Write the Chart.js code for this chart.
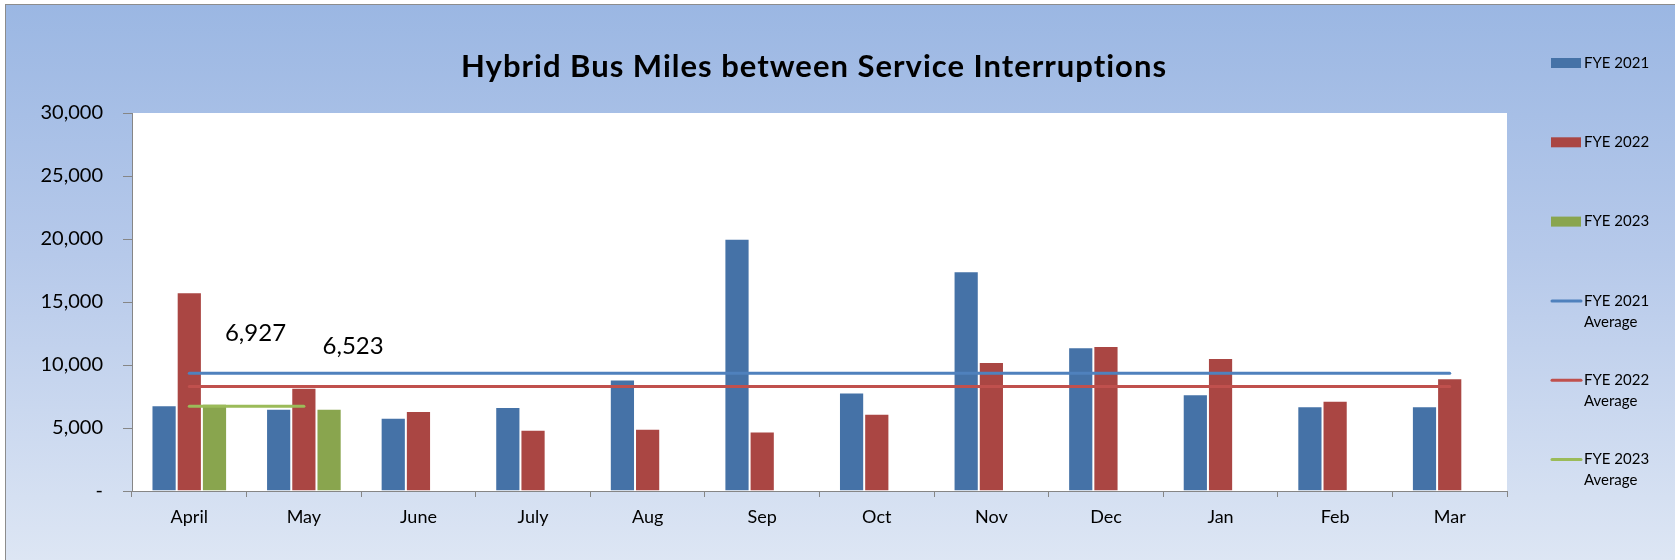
<!DOCTYPE html>
<html lang="en">
<head>
    <meta charset="UTF-8">
    <title>Hybrid Bus Miles between Service Interruptions</title>
    <style>
        body {
            margin: 0;
            padding: 0;
            background-color: #ffffff;
            overflow: hidden;
            font-family: Lato, sans-serif;
        }

        .frame {
            position: absolute;
            left: 5px;
            top: 4px;
            width: 1669px;
            height: 555px;
            border-left: 1px solid #8c8c8c;
            border-top: 1px solid #8c8c8c;
            background: linear-gradient(to bottom, #9bb7e3 0%, #b6c9ea 45%, #dde6f4 100%);
        }

        .chart-container {
            position: relative;
            width: 1669px;
            height: 555px;
        }
    </style>
</head>
<body>
    <div class="frame">
        <div class="chart-container">
            <canvas id="busChart"></canvas>
        </div>
    </div>

    <script src="https://cdn.jsdelivr.net/npm/chart.js"></script>
    <script>
        // Datos
        const months = ['April', 'May', 'June', 'July', 'Aug', 'Sep', 'Oct', 'Nov', 'Dec', 'Jan', 'Feb', 'Mar'];
        const fye2021 = [6810, 6520, 5820, 6660, 8840, 20020, 7810, 17450, 11410, 7670, 6720, 6720];
        const fye2022 = [15770, 8190, 6340, 4870, 4950, 4730, 6140, 10240, 11510, 10560, 7170, 8940];
        const fye2023 = [6927, 6523, null, null, null, null, null, null, null, null, null, null];
        const fye2021Avg = [9350, 9350, 9350, 9350, 9350, 9350, 9350, 9350, 9350, 9350, 9350, 9350];
        const fye2022Avg = [8290, 8290, 8290, 8290, 8290, 8290, 8290, 8290, 8290, 8290, 8290, 8290];
        const fye2023Avg = [6725, 6725, null, null, null, null, null, null, null, null, null, null];
        const yTicks = [0, 5000, 10000, 15000, 20000, 25000, 30000];

        const chartTitle = 'Hybrid Bus Miles between Service Interruptions';

        // fondo blanco del área de trazado
        const plotBackground = {
            id: 'plotBackground',
            beforeDraw(chart) {
                const { ctx, chartArea } = chart;
                ctx.save();
                ctx.fillStyle = '#ffffff';
                ctx.fillRect(chartArea.left, chartArea.top, chartArea.right - chartArea.left, chartArea.bottom - chartArea.top);
                ctx.restore();
            }
        };

        // título dibujado a mano (no centrado sobre el lienzo)
        const titlePlugin = {
            id: 'titlePlugin',
            afterDraw(chart) {
                const ctx = chart.ctx;
                ctx.save();
                ctx.font = 'bold 31px Lato';
                ctx.letterSpacing = '1px';
                ctx.fillStyle = '#000000';
                ctx.textAlign = 'center';
                ctx.textBaseline = 'alphabetic';
                ctx.fillText(chartTitle, 808, 72);
                ctx.restore();
            }
        };

        // etiquetas de datos de FYE 2023
        const labelOffsets = [{ dx: 41, dy: -70 }, { dx: 24, dy: -63 }];
        const dataLabels = {
            id: 'dataLabels',
            afterDatasetsDraw(chart) {
                const ctx = chart.ctx;
                const meta = chart.getDatasetMeta(2);
                ctx.save();
                ctx.font = '24px Lato';
                ctx.fillStyle = '#000000';
                ctx.textAlign = 'center';
                ctx.textBaseline = 'middle';
                fye2023.forEach((val, i) => {
                    if (val === null || !labelOffsets[i]) return;
                    const el = meta.data[i];
                    ctx.fillText(val.toLocaleString('en-US'), el.x + labelOffsets[i].dx, el.y + labelOffsets[i].dy);
                });
                ctx.restore();
            }
        };

        // leyenda a la derecha, con texto partido en dos líneas
        const sideLegend = {
            id: 'sideLegend',
            afterDraw(chart) {
                const ctx = chart.ctx;
                const x = 1545;
                const top = 58;
                const step = 79.3;
                ctx.save();
                ctx.font = '15px Lato';
                ctx.textBaseline = 'middle';
                ctx.textAlign = 'left';
                chart.data.datasets.forEach((ds, i) => {
                    const y = top + i * step;
                    if (ds.type === 'line') {
                        ctx.strokeStyle = ds.borderColor;
                        ctx.lineWidth = 3;
                        ctx.lineCap = 'round';
                        ctx.beginPath();
                        ctx.moveTo(x + 1, y);
                        ctx.lineTo(x + 30, y);
                        ctx.stroke();
                    } else {
                        ctx.fillStyle = ds.backgroundColor;
                        ctx.fillRect(x, y - 5, 30, 10);
                    }
                    // ajuste de línea simple
                    const words = ds.label.split(' ');
                    const lines = [];
                    let line = '';
                    words.forEach(w => {
                        const test = line ? line + ' ' + w : w;
                        if (ctx.measureText(test).width > 75 && line) {
                            lines.push(line);
                            line = w;
                        } else {
                            line = test;
                        }
                    });
                    lines.push(line);
                    ctx.fillStyle = '#000000';
                    lines.forEach((l, j) => ctx.fillText(l, x + 33, y + j * 21));
                });
                ctx.restore();
            }
        };

        const ctx = document.getElementById('busChart').getContext('2d');
        const busChart = new Chart(ctx, {
            type: 'bar',
            data: {
                labels: months,
                datasets: [
                    {
                        label: 'FYE 2021',
                        data: fye2021,
                        backgroundColor: '#4572a7',
                        borderColor: 'rgba(255, 255, 255, 0.3)',
                        borderWidth: 1,
                        order: 2
                    },
                    {
                        label: 'FYE 2022',
                        data: fye2022,
                        backgroundColor: '#aa4643',
                        borderColor: 'rgba(255, 255, 255, 0.3)',
                        borderWidth: 1,
                        order: 2
                    },
                    {
                        label: 'FYE 2023',
                        data: fye2023,
                        backgroundColor: '#89a54e',
                        borderColor: 'rgba(255, 255, 255, 0.3)',
                        borderWidth: 1,
                        order: 2
                    },
                    {
                        type: 'line',
                        label: 'FYE 2021 Average',
                        data: fye2021Avg,
                        borderColor: '#4f81bd',
                        borderWidth: 3,
                        borderCapStyle: 'round',
                        pointRadius: 0,
                        fill: false,
                        order: 1
                    },
                    {
                        type: 'line',
                        label: 'FYE 2022 Average',
                        data: fye2022Avg,
                        borderColor: '#c0504d',
                        borderWidth: 3,
                        borderCapStyle: 'round',
                        pointRadius: 0,
                        fill: false,
                        order: 1
                    },
                    {
                        type: 'line',
                        label: 'FYE 2023 Average',
                        data: fye2023Avg,
                        borderColor: '#9bbb59',
                        borderWidth: 3,
                        borderCapStyle: 'round',
                        pointRadius: 0,
                        fill: false,
                        spanGaps: false,
                        order: 1
                    }
                ]
            },
            options: {
                responsive: true,
                maintainAspectRatio: false,
                animation: false,
                datasets: {
                    bar: {
                        categoryPercentage: 0.66,
                        barPercentage: 1.0
                    }
                },
                layout: {
                    padding: { top: 108, right: 168, bottom: 19, left: 0 }
                },
                plugins: {
                    legend: { display: false },
                    title: { display: false },
                    tooltip: { enabled: false }
                },
                scales: {
                    x: {
                        grid: {
                            offset: true,
                            drawOnChartArea: false,
                            tickLength: 6,
                            color: '#868686'
                        },
                        border: { color: '#868686' },
                        ticks: {
                            color: '#000000',
                            font: { family: 'Lato', size: 18 },
                            padding: 9,
                            maxRotation: 0
                        },
                        afterFit(scale) { scale.height = 50; }
                    },
                    y: {
                        min: 0,
                        max: 30000,
                        afterBuildTicks(scale) {
                            scale.ticks = yTicks.map(v => ({ value: v }));
                        },
                        grid: {
                            drawOnChartArea: false,
                            tickLength: 9,
                            color: '#868686'
                        },
                        border: { color: '#868686' },
                        ticks: {
                            color: '#000000',
                            font: { family: 'Lato', size: 20 },
                            padding: 20,
                            callback: v => v === 0 ? '-' : v.toLocaleString('en-US')
                        },
                        afterFit(scale) { scale.width = 126; }
                    }
                }
            },
            plugins: [plotBackground, titlePlugin, dataLabels, sideLegend]
        });
    </script>
</body>
</html>
